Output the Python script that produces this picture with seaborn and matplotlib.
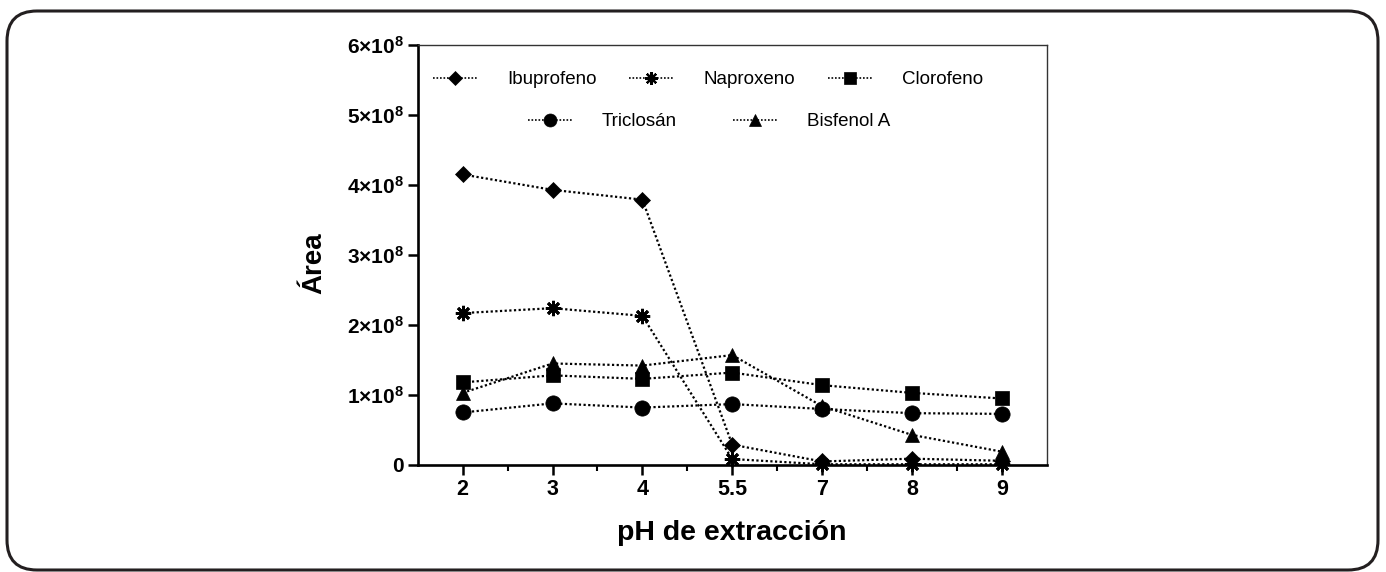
import matplotlib
matplotlib.use("Agg")
import matplotlib.pyplot as plt
import seaborn as sns
from matplotlib.lines import Line2D
from matplotlib.patches import FancyBboxPatch
from matplotlib.ticker import FixedLocator

# pH values are drawn as evenly spaced categories
ph_labels = ["2", "3", "4", "5.5", "7", "8", "9"]

# Areas, in units of 1e8
ibuprofeno = [4.15, 3.93, 3.79, 0.29, 0.05, 0.09, 0.06]
naproxeno = [2.17, 2.24, 2.13, 0.085, 0.01, 0.01, 0.01]
clorofeno = [1.18, 1.28, 1.23, 1.32, 1.14, 1.03, 0.95]
triclosan = [0.75, 0.88, 0.82, 0.87, 0.80, 0.74, 0.73]
bisfenol_a = [1.03, 1.45, 1.42, 1.57, 0.84, 0.43, 0.19]

y_ticks = [0, 1e8, 2e8, 3e8, 4e8, 5e8, 6e8]
y_tick_labels = ["0"] + [r"$\mathbf{%d{\times}10^{8}}$" % i for i in range(1, 7)]

sns.set_style("ticks")
plt.rcParams["font.family"] = ["Liberation Sans", "DejaVu Sans"]
plt.rcParams["mathtext.fontset"] = "custom"
plt.rcParams["mathtext.rm"] = "Liberation Sans"
plt.rcParams["mathtext.bf"] = "Liberation Sans:bold"
for key in ["text.color", "axes.labelcolor", "xtick.color", "ytick.color"]:
    plt.rcParams[key] = "black"

fig = plt.figure(figsize=(13.86, 5.72), dpi=100)
ax = fig.add_axes([0.3014, 0.1871, 0.4538, 0.7343])

dots = (0, (1, 1.1))
series = [
    ("Ibuprofeno", ibuprofeno, "D", 8),
    ("Naproxeno", naproxeno, (8, 2, 0), 11),
    ("Clorofeno", clorofeno, "s", 10),
    ("Triclosán", triclosan, "o", 11),
    ("Bisfenol A", bisfenol_a, "^", 10),
]

positions = list(range(len(ph_labels)))
handles = {}
for name, vals, mk, ms in series:
    sns.lineplot(x=positions, y=[v * 1e8 for v in vals], ax=ax, color="black",
                 linestyle=dots, linewidth=1.6, marker=mk, markersize=ms,
                 markeredgewidth=2 if mk == (8, 2, 0) else 0.5,
                 markeredgecolor="black", clip_on=False, zorder=3)
    handles[name] = Line2D([], [], color="black", linestyle=dots, linewidth=1.2,
                           marker=mk, markersize=ms * 0.85,
                           markeredgewidth=1.6 if mk == (8, 2, 0) else 0.5)

ax.set_xlim(-0.5, 6.5)
ax.set_ylim(0, 6e8)
ax.set_xticks(positions)
ax.set_xticklabels(ph_labels, fontsize=15.5, fontweight="bold")
ax.xaxis.set_minor_locator(FixedLocator([p + 0.5 for p in positions[:-1]]))
ax.set_yticks(y_ticks)
ax.set_yticklabels(y_tick_labels, fontsize=15, fontweight="bold")

ax.tick_params(axis="both", which="major", direction="out", length=7.5, width=1.8,
               color="black", pad=2.5)
ax.tick_params(axis="x", which="minor", direction="out", length=4.5, width=1.5,
               color="black")

for side in ["left", "bottom"]:
    ax.spines[side].set_linewidth(1.9)
    ax.spines[side].set_color("black")
for side in ["top", "right"]:
    ax.spines[side].set_visible(True)
    ax.spines[side].set_linewidth(1.0)
    ax.spines[side].set_color("#333333")

ax.set_xlabel("pH de extracción", fontsize=20.5, fontweight="bold")
ax.set_ylabel("Área", fontsize=20, fontweight="bold")
ax.xaxis.set_label_coords(0.5, -0.13)
ax.yaxis.set_label_coords(-0.144, 0.48)

row1 = ["Ibuprofeno", "Naproxeno", "Clorofeno"]
row2 = ["Triclosán", "Bisfenol A"]
leg1 = ax.legend([handles[n] for n in row1], row1, ncol=3, frameon=False,
                 loc="center left", bbox_to_anchor=(0.024, 0.917), borderpad=0,
                 borderaxespad=0, handlelength=2.35, handletextpad=1.6,
                 columnspacing=1.75, prop={"size": 13.5})
ax.add_artist(leg1)
ax.legend([handles[n] for n in row2], row2, ncol=2, frameon=False,
          loc="center left", bbox_to_anchor=(0.175, 0.817), borderpad=0,
          borderaxespad=0, handlelength=2.35, handletextpad=1.6,
          columnspacing=3.0, prop={"size": 13.5})

# rounded frame around the whole figure
frame = FancyBboxPatch((0.07, 0.02), 13.71, 5.59, boxstyle="round,pad=0,rounding_size=0.3",
                       transform=fig.dpi_scale_trans, fill=False, linewidth=2.2,
                       edgecolor="#231f20")
fig.patches.append(frame)

fig.savefig("out.png", dpi=100)
